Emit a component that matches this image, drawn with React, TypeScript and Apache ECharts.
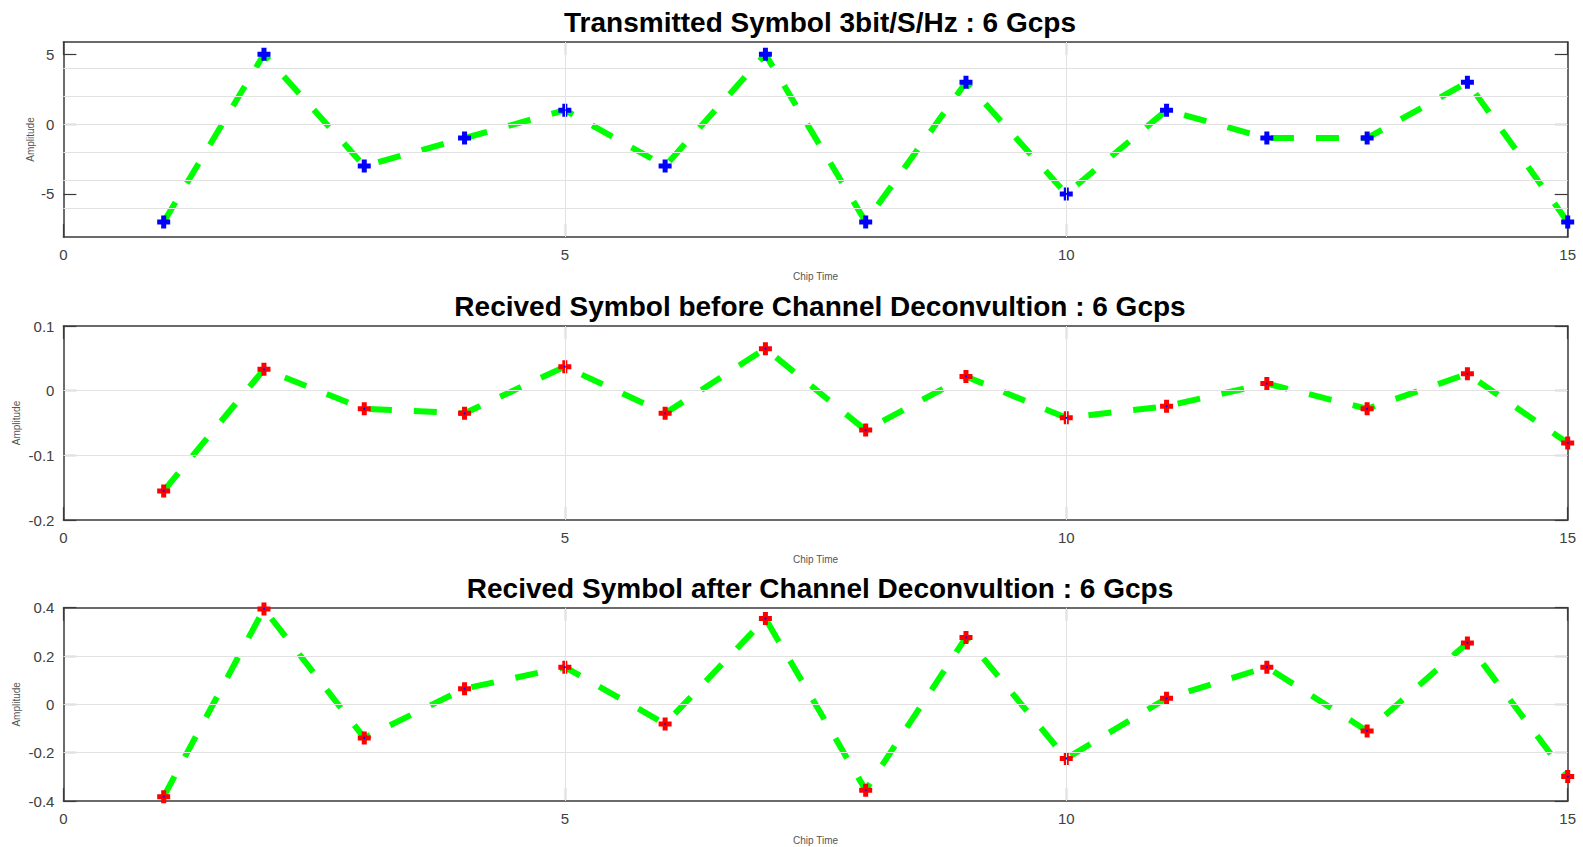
import React, { useEffect, useRef } from "react";
import * as echarts from "echarts";

const chipTime = [1, 2, 3, 4, 5, 6, 7, 8, 9, 10, 11, 12, 13, 14, 15];
const transmitted = [-7, 5, -3, -1, 1, -3, 5, -7, 3, -5, 1, -1, -1, 3, -7];
const receivedBefore = [-0.155, 0.033, -0.028, -0.035, 0.037, -0.035, 0.065, -0.061, 0.022, -0.042, -0.024, 0.011, -0.028, 0.026, -0.081];
const receivedAfter = [-0.382, 0.395, -0.139, 0.065, 0.154, -0.081, 0.355, -0.355, 0.277, -0.224, 0.025, 0.154, -0.11, 0.254, -0.299];

const titles = [
  "Transmitted Symbol 3bit/S/Hz : 6 Gcps",
  "Recived Symbol before Channel Deconvultion : 6 Gcps",
  "Recived Symbol after Channel Deconvultion : 6 Gcps",
];
const seriesValues = [transmitted, receivedBefore, receivedAfter];
const markerColors = ["#0000ff", "#ff0000", "#ff0000"];
const yMin = [-8.08, -0.2, -0.4];
const yMax = [5.88, 0.1, 0.4];
const yTickValues = [
  [-5, 0, 5],
  [-0.2, -0.1, 0, 0.1],
  [-0.4, -0.2, 0, 0.2, 0.4],
];
const yGridValues = [
  [-6, -4, -2, 0, 2, 4],
  [-0.1, 0],
  [-0.2, 0, 0.2],
];
const xTickValues = [0, 5, 10, 15];
const xGridValues = [5, 10];
const xLabel = "Chip Time";
const yLabel = "Amplitude";

const PLUS = "path://M4,0L9,0L9,4L13,4L13,9L9,9L9,13L4,13L4,9L0,9L0,4L4,4Z";

const gridTops = [42, 326, 607.7];
const gridHeights = [195, 194, 193.3];
const titleY = [22, 306.5, 588.6];
const yNameGaps = [28, 42, 42];

export default function App() {
  const ref = useRef<HTMLDivElement>(null);

  useEffect(() => {
    document.body.style.margin = "0";
    if (!ref.current) return;
    const chart = echarts.init(ref.current, undefined, { renderer: "svg" });

    const axisColor = "#3a3a3a";
    const labelColor = "#404040";
    const font = "Liberation Sans, Arial, sans-serif";
    const grids: any[] = [];
    const xAxes: any[] = [];
    const yAxes: any[] = [];
    const series: any[] = [];
    const graphics: any[] = [];

    for (let i = 0; i < 3; i++) {
      grids.push({
        left: 63.4,
        right: 15.3,
        top: gridTops[i],
        height: gridHeights[i],
        outerBoundsMode: "none",
        containLabel: false,
      });
      const common = {
        gridIndex: i,
        type: "value",
        axisLine: { show: true, onZero: false, lineStyle: { color: axisColor, width: 1.5 } },
        splitLine: { show: false },
      };
      xAxes.push({
        ...common,
        position: "bottom",
        min: 0,
        max: 15,
        axisTick: { show: true, inside: true, length: 13, customValues: xTickValues, lineStyle: { color: axisColor, width: 1.2 } },
        axisLabel: { show: true, customValues: xTickValues, margin: 10, fontSize: 15, color: labelColor, fontFamily: font },
        name: xLabel,
        nameLocation: "middle",
        nameGap: 34,
        nameMoveOverlap: false,
        nameTextStyle: { fontSize: 10, color: "#555", fontFamily: font },
      });
      xAxes.push({
        ...common,
        position: "top",
        min: 0,
        max: 15,
        axisTick: { show: true, inside: true, length: 13, customValues: xTickValues, lineStyle: { color: axisColor, width: 1.2 } },
        axisLabel: { show: false },
      });
      yAxes.push({
        ...common,
        position: "left",
        min: yMin[i],
        max: yMax[i],
        axisTick: { show: true, inside: true, length: 13, customValues: yTickValues[i], lineStyle: { color: axisColor, width: 1.2 } },
        axisLabel: { show: true, customValues: yTickValues[i], margin: 9, fontSize: 15, color: labelColor, fontFamily: font },
        name: yLabel,
        nameLocation: "middle",
        nameRotate: 90,
        nameGap: yNameGaps[i],
        nameMoveOverlap: false,
        nameTextStyle: { fontSize: 10, color: "#555", fontFamily: font },
      });
      yAxes.push({
        ...common,
        position: "right",
        min: yMin[i],
        max: yMax[i],
        axisTick: { show: true, inside: true, length: 13, customValues: yTickValues[i], lineStyle: { color: axisColor, width: 1.2 } },
        axisLabel: { show: false },
      });

      const pts = chipTime.map((t, k) => [t, seriesValues[i][k]]);
      const markData = [
        ...yGridValues[i].map((v) => ({ yAxis: v })),
        ...xGridValues.map((v) => ({ xAxis: v })),
      ];
      series.push({
        type: "line",
        xAxisIndex: 2 * i,
        yAxisIndex: 2 * i,
        data: pts,
        showSymbol: false,
        symbol: "none",
        silent: true,
        z: 1,
        lineStyle: { opacity: 0, width: 0 },
        markLine: {
          silent: true,
          symbol: ["none", "none"],
          label: { show: false },
          lineStyle: { color: "#e2e2e2", width: 1, type: "solid" },
          data: markData,
        },
      });
      series.push({
        type: "line",
        xAxisIndex: 2 * i,
        yAxisIndex: 2 * i,
        data: pts,
        symbol: "none",
        z: 3,
        lineStyle: { color: "#00ff00", width: 6, type: [23, 22], cap: "butt" },
      });
      series.push({
        type: "scatter",
        xAxisIndex: 2 * i,
        yAxisIndex: 2 * i,
        data: pts,
        symbol: PLUS,
        symbolSize: 13,
        z: 4,
        itemStyle: { color: markerColors[i], opacity: 1 },
      });
      series.push({
        type: "scatter",
        xAxisIndex: 2 * i,
        yAxisIndex: 2 * i,
        data: pts,
        symbol: "circle",
        symbolSize: 2,
        z: 5,
        itemStyle: { color: "#0000ff", opacity: 1 },
      });

      graphics.push({
        type: "text",
        x: 820,
        y: titleY[i],
        style: {
          text: titles[i],
          fill: "#000",
          font: "bold 28px 'Liberation Sans', Arial, sans-serif",
          textAlign: "center",
          textVerticalAlign: "middle",
          align: "center",
          verticalAlign: "middle",
        },
      });
    }

    chart.setOption({
      animation: false,
      backgroundColor: "#ffffff",
      grid: grids,
      xAxis: xAxes,
      yAxis: yAxes,
      series,
      graphic: graphics,
    });

    return () => chart.dispose();
  }, []);

  return <div ref={ref} style={{ width: 1583, height: 847 }} />;
}
